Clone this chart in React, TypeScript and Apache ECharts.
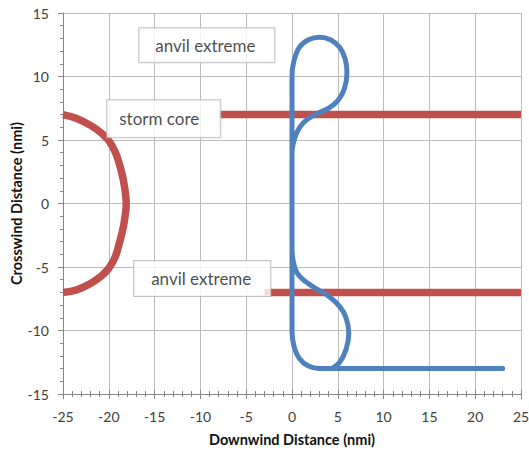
import React, { useEffect, useRef } from "react";
import * as echarts from "echarts";

// Axis ranges (nmi) and major tick step
const X_MIN = -25;
const X_MAX = 25;
const Y_MIN = -15;
const Y_MAX = 15;
const TICK_STEP = 5;

// Storm core outline (left arc)
const stormCoreArc: [number, number][] = [
  [-25, 7], [-23.5, 6.7], [-22, 6.15], [-20.8, 5.55], [-20, 4.95], [-19.3, 4.05],
  [-18.8, 3], [-18.4, 1.8], [-18.15, 0.6], [-18.1, 0], [-18.15, -0.6], [-18.4, -1.8],
  [-18.8, -3], [-19.3, -4.2], [-20, -5.1], [-20.8, -5.7], [-22, -6.3], [-23.5, -6.8], [-25, -7],
];

// Anvil extreme boundaries (horizontal tracks)
const upperAnvilEdge: [number, number][] = [[-8, 7], [25, 7]];
const lowerAnvilEdge: [number, number][] = [[-3, -7], [25, -7]];

// Anvil outline with its two loops
const anvilOutline: [number, number][] = [
  [23, -13], [4.3, -13], [5.2, -12.5], [5.9, -11.5], [6.2, -10.2], [5.9, -9], [5.2, -8.1],
  [4, -7.3], [2.4, -6.6], [1.2, -6], [0.5, -5.4], [0.15, -4.6], [0, -3.5], [0, 0], [0, 4],
  [0.2, 4.9], [0.6, 5.7], [1.3, 6.4], [2.5, 7], [4, 7.5], [5, 8.1], [5.7, 9], [6, 10.3],
  [5.8, 11.4], [5.2, 12.3], [4.2, 12.9], [3, 13.1], [1.8, 12.9], [0.8, 12.3], [0.2, 11.2],
  [0, 10], [0, 0], [0, -10], [0.2, -11.2], [0.8, -12.2], [1.8, -12.8], [3, -13], [4.3, -13],
];

// Callout texts and where their boxes sit
const calloutTexts = ["anvil extreme", "storm core", "anvil extreme"];
const calloutCenters: [number, number][] = [[-9.3, 12.46], [-14.0, 6.68], [-9.8, -5.9]];
const calloutPadding: number[][] = [[8, 19, 8, 16], [9.5, 21, 9.5, 12], [8.5, 19, 8.5, 17]];

const RED = "#c0504d";
const BLUE = "#4f81bd";
const FONT = "Lato, 'Open Sans', sans-serif";

export default function App() {
  const ref = useRef<HTMLDivElement>(null);

  useEffect(() => {
    if (!ref.current) return;
    const chart = echarts.init(ref.current, undefined, { renderer: "svg" });

    const tickColor = "#868686";
    const minor = { show: true, splitNumber: 5, length: 3, lineStyle: { color: tickColor } };
    const titleStyle = { fontFamily: FONT, fontWeight: "bold", fontSize: 14.5, color: "#111" };

    chart.setOption({
      animation: false,
      textStyle: { fontFamily: FONT },
      grid: { left: 63, right: 8, top: 13, bottom: 60, containLabel: false, outerBoundsMode: "none" },
      xAxis: [
        {
          type: "value",
          min: X_MIN,
          max: X_MAX,
          interval: TICK_STEP,
          name: "Downwind Distance (nmi)",
          nameLocation: "middle",
          nameGap: 38,
          nameMoveOverlap: false,
          nameTextStyle: titleStyle,
          axisLine: { onZero: false, lineStyle: { color: tickColor, width: 1 } },
          axisTick: { length: 5, lineStyle: { color: tickColor } },
          minorTick: minor,
          axisLabel: { color: "#404040", fontSize: 14, fontFamily: FONT, margin: 15 },
          splitLine: { show: true, lineStyle: { color: "#bcbcbc", width: 1 } },
        },
        {
          type: "value",
          min: X_MIN,
          max: X_MAX,
          interval: TICK_STEP,
          position: "bottom",
          axisLine: { show: false, onZero: false },
          axisTick: { inside: true, length: 4, lineStyle: { color: tickColor } },
          minorTick: minor,
          axisLabel: { show: false },
          splitLine: { show: false },
        },
      ],
      yAxis: [
        {
          type: "value",
          min: Y_MIN,
          max: Y_MAX,
          interval: TICK_STEP,
          name: "Crosswind Distance (nmi)",
          nameLocation: "middle",
          nameGap: 39,
          nameMoveOverlap: false,
          nameTextStyle: titleStyle,
          axisLine: { onZero: false, lineStyle: { color: tickColor, width: 1 } },
          axisTick: { length: 5, lineStyle: { color: tickColor } },
          minorTick: minor,
          axisLabel: { color: "#404040", fontSize: 14, fontFamily: FONT, margin: 14 },
          splitLine: { show: true, lineStyle: { color: "#bcbcbc", width: 1 } },
        },
        {
          type: "value",
          min: Y_MIN,
          max: Y_MAX,
          interval: TICK_STEP,
          position: "left",
          axisLine: { show: false, onZero: false },
          axisTick: { show: false },
          minorTick: minor,
          axisLabel: { show: false },
          splitLine: { show: false },
        },
      ],
      series: [
        {
          name: "storm core",
          type: "line",
          data: stormCoreArc,
          smooth: 0.4,
          showSymbol: false,
          lineStyle: { color: RED, width: 7.5, cap: "butt" },
        },
        {
          name: "upper anvil edge",
          type: "line",
          data: upperAnvilEdge,
          showSymbol: false,
          lineStyle: { color: RED, width: 7.5, cap: "butt" },
        },
        {
          name: "lower anvil edge",
          type: "line",
          data: lowerAnvilEdge,
          showSymbol: false,
          lineStyle: { color: RED, width: 7.5, cap: "butt" },
        },
        {
          name: "anvil outline",
          type: "line",
          data: anvilOutline,
          smooth: 0.35,
          showSymbol: false,
          lineStyle: { color: BLUE, width: 5, cap: "round", join: "round" },
        },
        {
          name: "callouts",
          type: "scatter",
          z: 10,
          silent: true,
          symbol: "circle",
          symbolSize: 1,
          itemStyle: { color: "rgba(0,0,0,0)" },
          data: calloutCenters.map((c, i) => ({
            value: c,
            label: {
              show: true,
              position: "inside",
              formatter: calloutTexts[i],
              padding: calloutPadding[i],
            },
          })),
          label: {
            show: true,
            fontFamily: FONT,
            fontSize: 17,
            lineHeight: 18,
            color: "#1a1a1a",
            backgroundColor: "#ffffff",
            borderColor: "#b4b4b4",
            borderWidth: 1,
          },
        },
      ],
    });

    return () => chart.dispose();
  }, []);

  return (
    <div
      ref={ref}
      style={{ position: "absolute", left: 0, top: 0, width: 529, height: 454, background: "#fff" }}
    />
  );
}
